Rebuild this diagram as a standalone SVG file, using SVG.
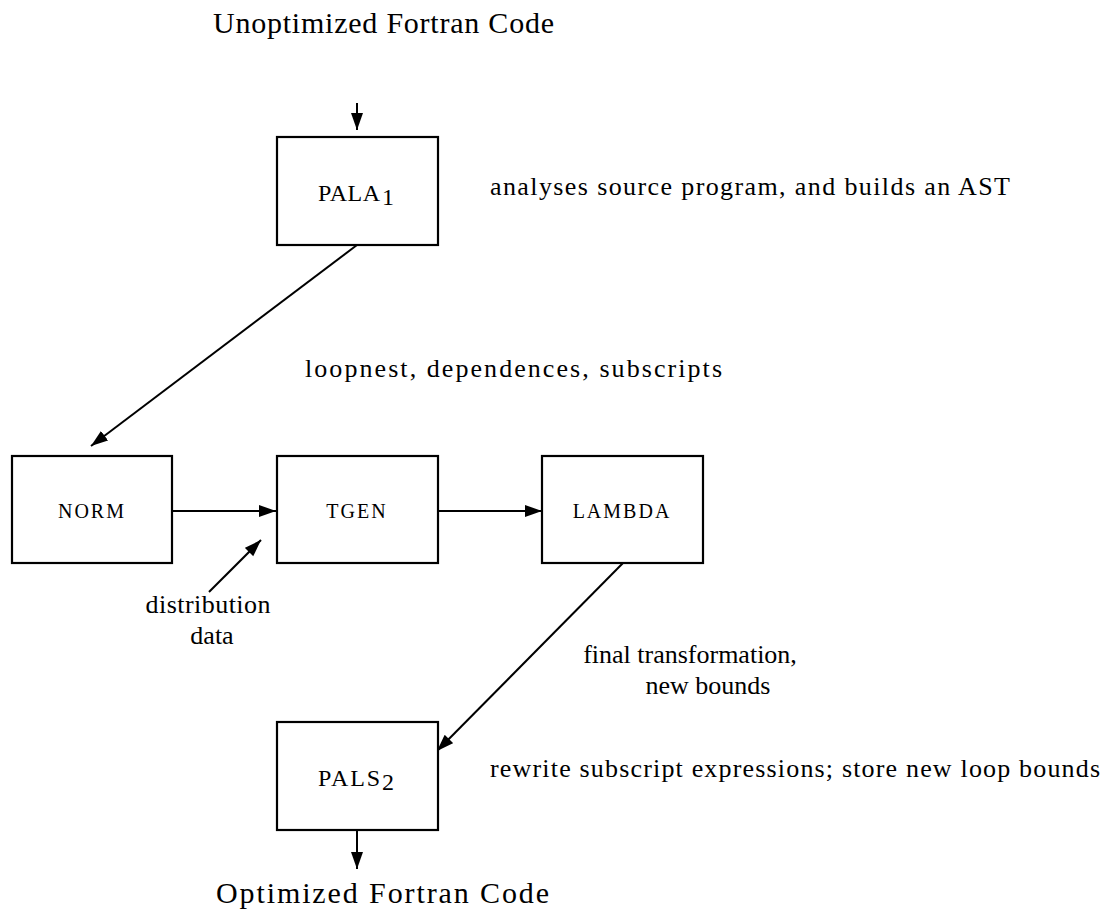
<svg xmlns="http://www.w3.org/2000/svg" width="1105" height="917" viewBox="0 0 1105 917">
<style>
.box{fill:#fff;stroke:#000;stroke-width:2.2}
.lbl{font-family:"Liberation Serif","Times New Roman",serif;font-size:26px;fill:#000}
.big{font-family:"Liberation Serif","Times New Roman",serif;font-size:30px;fill:#000}
.sc{font-family:"Liberation Serif","Times New Roman",serif;font-size:20px;fill:#000;letter-spacing:2px}
.cap{font-family:"Liberation Serif","Times New Roman",serif;font-size:24px;fill:#000}
.edge{fill:none;stroke:#000;stroke-width:2;marker-end:url(#ah)}
</style>
<defs>
<marker id="ah" markerUnits="userSpaceOnUse" markerWidth="20" markerHeight="14" refX="17" refY="6" orient="auto">
<path d="M0,0 L17,6 L0,12 Z" fill="#000"/>
</marker>
</defs>
<g id="connectors">
<line class="edge" x1="357" y1="103" x2="357" y2="130"/>
<line class="edge" x1="357" y1="245" x2="91" y2="446"/>
<line class="edge" x1="172" y1="511" x2="276" y2="511"/>
<line class="edge" x1="438" y1="511" x2="542" y2="511"/>
<line class="edge" x1="209" y1="592" x2="261" y2="540"/>
<line class="edge" x1="623" y1="563" x2="437" y2="751"/>
<line class="edge" x1="357" y1="830" x2="357" y2="869"/>
</g>
<g id="input-label"><text class="big" x="213" y="33" textLength="341" lengthAdjust="spacing">Unoptimized Fortran Code</text></g>
<g id="output-label"><text class="big" x="216" y="903" textLength="333" lengthAdjust="spacing">Optimized Fortran Code</text></g>
<g id="PALA1">
<rect class="box" x="277" y="137" width="161" height="108"/>
<text class="cap" x="318" y="201" textLength="62" lengthAdjust="spacing">PALA</text>
<text class="cap" x="382" y="205" font-size="20">1</text>
</g>
<g id="NORM">
<rect class="box" x="12" y="456" width="160" height="107"/>
<text class="sc" x="92" y="518" text-anchor="middle">NORM</text>
</g>
<g id="TGEN">
<rect class="box" x="277" y="456" width="161" height="107"/>
<text class="sc" x="357" y="518" text-anchor="middle">TGEN</text>
</g>
<g id="LAMBDA">
<rect class="box" x="542" y="456" width="161" height="107"/>
<text class="sc" x="622" y="518" text-anchor="middle">LAMBDA</text>
</g>
<g id="PALS2">
<rect class="box" x="277" y="722" width="161" height="108"/>
<text class="cap" x="318" y="786" textLength="62" lengthAdjust="spacing">PALS</text>
<text class="cap" x="382" y="790" font-size="20">2</text>
</g>
<g id="labels">
<text class="lbl" x="490" y="195" textLength="520" lengthAdjust="spacing">analyses source program, and builds an AST</text>
<text class="lbl" x="305" y="377" textLength="417" lengthAdjust="spacing">loopnest, dependences, subscripts</text>
<text class="lbl" x="208" y="613" text-anchor="middle" textLength="125" lengthAdjust="spacing">distribution</text>
<text class="lbl" x="212" y="644" text-anchor="middle">data</text>
<text class="lbl" x="690" y="663" text-anchor="middle">final transformation,</text>
<text class="lbl" x="708" y="694" text-anchor="middle">new bounds</text>
<text class="lbl" x="490" y="777" textLength="610" lengthAdjust="spacing">rewrite subscript expressions; store new loop bounds</text>
</g>
</svg>
